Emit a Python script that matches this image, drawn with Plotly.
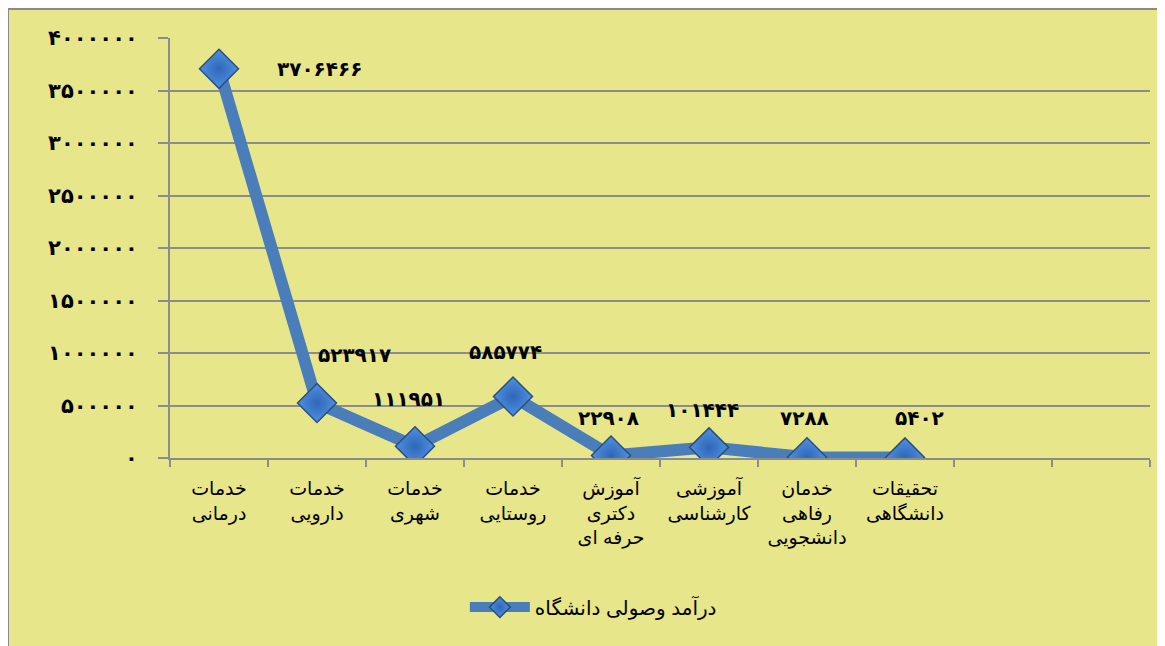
import plotly.graph_objects as go

categories = [
    "خدمات<br>درمانی",
    "خدمات<br>دارویی",
    "خدمات<br>شهری",
    "خدمات<br>روستایی",
    "آموزش<br>دکتری<br>حرفه ای",
    "آموزشی<br>کارشناسی",
    "خدمان<br>رفاهی<br>دانشجویی",
    "تحقیقات<br>دانشگاهی",
]
empty_slots = [" ", "  "]
values = [3706466, 523917, 111951, 585774, 22908, 101444, 7288, 5402]
series_name = "درآمد وصولی دانشگاه"
y_tickvals = [0, 500000, 1000000, 1500000, 2000000, 2500000, 3000000, 3500000, 4000000]

FA_DIGITS = str.maketrans("0123456789", "۰۱۲۳۴۵۶۷۸۹")


def fa(n):
    return str(n).translate(FA_DIGITS)


BG = "#E8E68A"
GRID = "#8C8C8C"
LINE = "#4A7EBB"

W, H = 1157, 638          # page body has an 8px margin
L, T = 162, 30
PW, PH = 980, 420

fig = go.Figure()
fig.add_trace(go.Scatter(
    x=categories, y=values, name=series_name, mode="lines+markers",
    line=dict(color=LINE, width=12),
    marker=dict(symbol="diamond", size=30, color="#4F90E4",
                line=dict(color="#2B4E7A", width=1.5),
                gradient=dict(type="radial", color="#2F67B5")),
    hoverinfo="x+y",
))

# data labels (label placement style per point: (xshift, yshift))
label_shift = [(100, 0), (37, 48), (-7, 47), (-8, 44), (-3, 38), (-7, 37), (-3, 39), (14, 39)]
for c, v, (dx, dy) in zip(categories, values, label_shift):
    fig.add_annotation(x=c, y=v, text="<b>" + fa(v) + "</b>", showarrow=False,
                       xshift=dx, yshift=dy,
                       font=dict(family="DejaVu Sans", size=20, color="black"))

# outer chart area with border
fig.add_shape(type="rect", xref="paper", yref="paper",
              x0=(0 - L) / PW, x1=(W + 10 - L) / PW,
              y0=(T + PH - H - 10) / PH, y1=(T + PH - 1) / PH,
              fillcolor=BG, line=dict(color="#8A8A8A", width=2), layer="below")

fig.update_layout(
    width=W, height=H,
    margin=dict(l=L, r=W - L - PW, t=T, b=H - T - PH, autoexpand=False),
    paper_bgcolor="white", plot_bgcolor=BG,
    font=dict(family="Liberation Sans, DejaVu Sans", size=19, color="black"),
    showlegend=True,
    legend=dict(orientation="h", x=0.432, xanchor="center", y=-0.355, yanchor="middle",
                bgcolor="rgba(0,0,0,0)", font=dict(size=20),
                itemwidth=60),
    xaxis=dict(type="category", categoryorder="array",
               categoryarray=categories + empty_slots,
               range=[-0.5, len(categories) + len(empty_slots) - 0.5],
               tickson="boundaries", ticks="outside", ticklen=7, tickcolor=GRID, tickwidth=2,
               showline=True, linecolor=GRID, linewidth=2, showgrid=False,
               tickfont=dict(size=19), ticklabelstandoff=12, automargin=False),
    yaxis=dict(range=[0, 4000000], tickvals=y_tickvals,
               ticktext=["<b>" + fa(t) + "</b>" for t in y_tickvals],
               ticks="outside", ticklen=10, tickcolor=GRID, tickwidth=2,
               showline=True, linecolor=GRID, linewidth=2,
               showgrid=True, gridcolor=GRID, gridwidth=2, zeroline=False,
               tickfont=dict(family="DejaVu Sans", size=21), ticklabelstandoff=16,
               automargin=False),
)

fig.write_html("out.html")
